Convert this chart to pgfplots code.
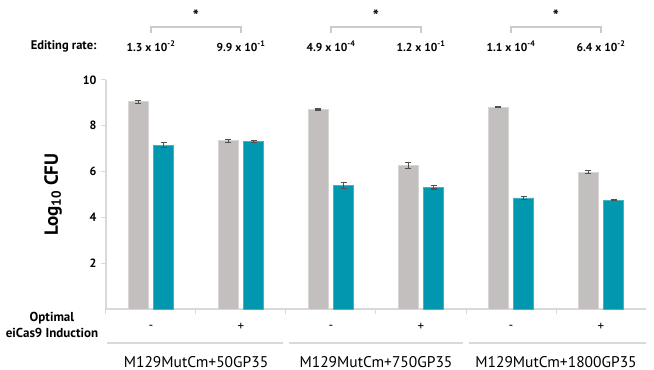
\documentclass[border=0pt]{standalone}
\usepackage{fontspec}
\setmainfont{PT Sans}
\usepackage{pgfplots}
\pgfplotsset{compat=1.18}
\definecolor{barg}{HTML}{C3BFBE}
\definecolor{bargd}{HTML}{D8D6D5}
\definecolor{tealb}{HTML}{0097AF}
\definecolor{teald}{HTML}{3DB4C7}
\definecolor{axg}{HTML}{D9D9D9}
\definecolor{errc}{HTML}{505050}
\newcommand{\fs}[1]{\fontsize{#1}{#1}\selectfont}
\begin{document}
\begin{tikzpicture}
\useasboundingbox (-106bp,-61bp) rectangle (548bp,309bp);
\begin{axis}[
  at={(0,0)}, anchor=south west,
  scale only axis, width=540bp, height=229bp,
  xmin=-0.5, xmax=5.5, ymin=0, ymax=10,
  axis lines*=left,
  axis line style={axg, line width=1.3bp},
  ytick={2,4,6,8,10},
  xtick={-0.5,0.5,1.5,2.5,3.5,4.5},
  xticklabels={},
  tick align=outside, major tick length=5bp,
  tick style={axg, line width=1bp},
  /pgf/number format/assume math mode=true,
  yticklabel style={font=\fs{12bp}\bfseries, xshift=-1bp},
  ylabel={\bfseries Log\textsubscript{10} CFU},
  ylabel style={at={(rel axis cs:-0.098,0.5)}, anchor=center, font=\fs{19bp}},
  ybar=5.6bp, bar width=20bp,
  clip=false,
  error bars/y dir=both, error bars/y explicit,
  error bars/error bar style={errc, line width=1.1bp},
  error bars/error mark options={rotate=90, errc, mark size=3.2bp, line width=1.1bp},
]
\addplot[fill=barg, draw=bargd, line width=0.8bp] coordinates {
 (0,9.05) +- (0,0.07)
 (1,7.35) +- (0,0.06)
 (2,8.72) +- (0,0.03)
 (3,6.27) +- (0,0.12)
 (4,8.81) +- (0,0.02)
 (5,5.98) +- (0,0.06)
};
\addplot[fill=tealb, draw=teald, line width=0.8bp] coordinates {
 (0,7.16) +- (0,0.12)
 (1,7.32) +- (0,0.03)
 (2,5.40) +- (0,0.13)
 (3,5.31) +- (0,0.07)
 (4,4.85) +- (0,0.06)
 (5,4.75) +- (0,0.02)
};
% Editing rates
\node[font=\fs{12.5bp}\bfseries, anchor=east] at (axis cs:-0.5,11.48) [xshift=-6bp] {Editing rate:};
\node[font=\fs{11.5bp}\bfseries] at (axis cs:0,11.48) {1.3 x 10\textsuperscript{-2}};
\node[font=\fs{11.5bp}\bfseries] at (axis cs:1,11.48) {9.9 x 10\textsuperscript{-1}};
\node[font=\fs{11.5bp}\bfseries] at (axis cs:2,11.48) {4.9 x 10\textsuperscript{-4}};
\node[font=\fs{11.5bp}\bfseries] at (axis cs:3,11.48) {1.2 x 10\textsuperscript{-1}};
\node[font=\fs{11.5bp}\bfseries] at (axis cs:4,11.48) {1.1 x 10\textsuperscript{-4}};
\node[font=\fs{11.5bp}\bfseries] at (axis cs:5,11.48) {6.4 x 10\textsuperscript{-2}};
% brackets
\draw[axg!85!gray, line width=1.2bp] (axis cs:0,12.05) -- (axis cs:0,12.31) -- (axis cs:1,12.31) -- (axis cs:1,12.05);
\draw[axg!85!gray, line width=1.2bp] (axis cs:2,12.05) -- (axis cs:2,12.31) -- (axis cs:3,12.31) -- (axis cs:3,12.05);
\draw[axg!85!gray, line width=1.2bp] (axis cs:4,12.05) -- (axis cs:4,12.31) -- (axis cs:5,12.31) -- (axis cs:5,12.05);
\node[font=\fs{16bp}\bfseries] at (axis cs:0.5,12.80) {*};
\node[font=\fs{16bp}\bfseries] at (axis cs:2.5,12.80) {*};
\node[font=\fs{16bp}\bfseries] at (axis cs:4.5,12.80) {*};
% induction row
\node[font=\fs{13bp}\bfseries, align=center] at (axis cs:-0.5,0) [xshift=-54bp, yshift=-15.5bp] {Optimal\\[3bp]eiCas9 Induction};
\node[font=\fs{13bp}] at (axis cs:0,0) [yshift=-18bp] {-};
\node[font=\fs{13bp}] at (axis cs:1,0) [yshift=-18bp] {+};
\node[font=\fs{13bp}] at (axis cs:2,0) [yshift=-18bp] {-};
\node[font=\fs{13bp}] at (axis cs:3,0) [yshift=-18bp] {+};
\node[font=\fs{13bp}] at (axis cs:4,0) [yshift=-18bp] {-};
\node[font=\fs{13bp}] at (axis cs:5,0) [yshift=-18bp] {+};
% group lines
\draw[axg, line width=1.3bp] ([yshift=-34bp]axis cs:-0.49,0) -- ([yshift=-34bp]axis cs:1.467,0);
\draw[axg, line width=1.3bp] ([yshift=-34bp]axis cs:1.533,0) -- ([yshift=-34bp]axis cs:3.467,0);
\draw[axg, line width=1.3bp] ([yshift=-34bp]axis cs:3.533,0) -- ([yshift=-34bp]axis cs:5.5,0);
\node[font=\fs{15.5bp}, anchor=base, inner sep=1bp] at (axis cs:0.5,0) [yshift=-58bp] {M129MutCm+50GP35};
\node[font=\fs{15.5bp}, anchor=base, inner sep=1bp] at (axis cs:2.5,0) [yshift=-58bp] {M129MutCm+750GP35};
\node[font=\fs{15.5bp}, anchor=base, inner sep=1bp] at (axis cs:4.5,0) [yshift=-58bp] {M129MutCm+1800GP35};
\end{axis}
\end{tikzpicture}
\end{document}
